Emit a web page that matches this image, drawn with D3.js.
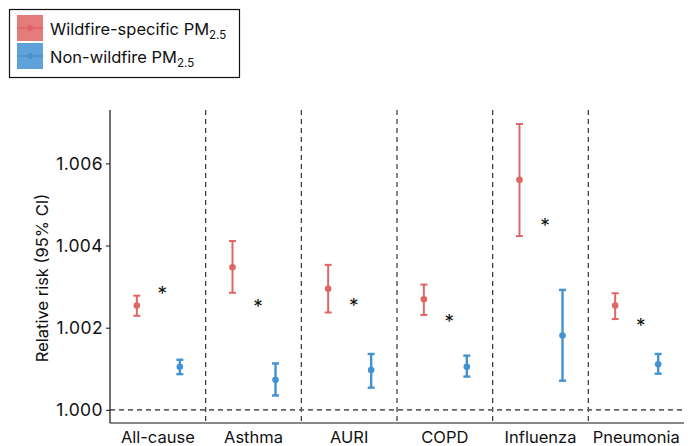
<!DOCTYPE html>
<html><head><meta charset="utf-8">
<script src="https://cdn.jsdelivr.net/npm/d3@7"></script>
<style>body{margin:0;background:#fff;} text{font-family:Inter,"Noto Sans",sans-serif;}</style>
</head><body>
<svg id="c" width="688" height="446"></svg>
<script>
const categories = ["All-cause","Asthma","AURI","COPD","Influenza","Pneumonia"];
const wildEst = [1.00254,1.00347,1.00295,1.00269,1.00560,1.00254];
const wildLo  = [1.00229,1.00285,1.00237,1.00231,1.00423,1.00221];
const wildHi  = [1.00278,1.00411,1.00353,1.00305,1.00696,1.00284];
const nonEst  = [1.00105,1.00073,1.00097,1.00105,1.00181,1.00111];
const nonLo   = [1.00087,1.00035,1.00054,1.00081,1.00071,1.00088];
const nonHi   = [1.00122,1.00113,1.00136,1.00132,1.00292,1.00136];
const starY   = [1.00292,1.00260,1.00262,1.00223,1.00457,1.00215];
const yTicks  = [1.000,1.002,1.004,1.006];
const seriesNames = ["Wildfire-specific PM","Non-wildfire PM"];

const red = "#e06666", blue = "#4393d3";
const svg = d3.select("#c");
const L = 110, R = 684, T = 110, B = 423;
const x = d3.scaleBand().domain(categories).range([L, R]);
const y = d3.scaleLinear().domain([0.99968, 1.0073]).range([B, T]);

// y ticks
const yAxis = d3.axisLeft(y).tickValues(yTicks).tickFormat(d3.format(".3f")).tickSize(4).tickSizeOuter(0);
const ga = svg.append("g").attr("transform",`translate(${L},0)`).call(yAxis);
ga.select(".domain").remove();
ga.selectAll("text").attr("font-size",17.5).attr("fill","#111").attr("font-family","Inter,sans-serif").attr("letter-spacing",0.4);
ga.selectAll("line").attr("stroke","#111");

// separators
svg.selectAll(".sep").data(categories.slice(1)).enter().append("line")
  .attr("x1",d=>x(d)).attr("x2",d=>x(d)).attr("y1",T).attr("y2",B)
  .attr("stroke","#333").attr("stroke-width",1.2).attr("stroke-dasharray","5,4");
// reference line
svg.append("line").attr("x1",L).attr("x2",R).attr("y1",y(1)).attr("y2",y(1))
  .attr("stroke","#666").attr("stroke-width",1.6).attr("stroke-dasharray","5,4");

// axes lines
svg.append("line").attr("x1",L).attr("x2",L).attr("y1",T).attr("y2",B).attr("stroke","#111").attr("stroke-width",1.2);
svg.append("line").attr("x1",L).attr("x2",R).attr("y1",B).attr("y2",B).attr("stroke","#111").attr("stroke-width",1.2);

// category labels
const xAxis = d3.axisBottom(x).tickSize(0);
const gx = svg.append("g").attr("transform",`translate(0,${B})`).call(xAxis);
gx.select(".domain").remove();
gx.selectAll("text").attr("font-size",16.5).attr("fill","#111").attr("dy","1.0em").attr("font-family","Inter,sans-serif");

// y title
svg.append("text").attr("transform",`translate(48,278) rotate(-90)`).attr("text-anchor","middle")
  .attr("font-size",16.5).attr("fill","#111").text("Relative risk (95% CI)");

function drawSeries(est, lo, hi, off, col, sw) {
  const g = svg.append("g");
  categories.forEach((c,i)=>{
    const cx = x(c) + x.bandwidth()/2 + off;
    g.append("line").attr("x1",cx).attr("x2",cx).attr("y1",y(lo[i])).attr("y2",y(hi[i])).attr("stroke",col).attr("stroke-width",sw);
    [lo[i],hi[i]].forEach(v=>g.append("line").attr("x1",cx-3.5).attr("x2",cx+3.5).attr("y1",y(v)).attr("y2",y(v)).attr("stroke",col).attr("stroke-width",sw));
    g.append("circle").attr("cx",cx).attr("cy",y(est[i])).attr("r",3.3).attr("fill",col);
  });
}
drawSeries(wildEst, wildLo, wildHi, -21, red, 2);
drawSeries(nonEst, nonLo, nonHi, 22, blue, 2.4);

// asterisks
svg.selectAll(".star").data(categories).enter().append("text")
  .attr("x",d=>x(d)+x.bandwidth()/2+4.5).attr("y",(d,i)=>y(starY[i])+10)
  .attr("text-anchor","middle").attr("font-size",19).attr("fill","#111").text("*");

// legend
const lg = svg.append("g");
lg.append("rect").attr("x",9.5).attr("y",9.5).attr("width",230).attr("height",68).attr("fill","#fff").attr("stroke","#111").attr("stroke-width",1.2);
const keyCols = [["#e57b7b","#e06262"],["#5fa2d9","#4a90cf"]];
seriesNames.forEach((n,i)=>{
  const ky = 15 + i*28;
  lg.append("rect").attr("x",17).attr("y",ky).attr("width",26).attr("height",26).attr("fill",keyCols[i][0]);
  lg.append("line").attr("x1",17).attr("x2",43).attr("y1",ky+13).attr("y2",ky+13).attr("stroke",keyCols[i][1]).attr("stroke-width",1.5);
  lg.append("circle").attr("cx",30).attr("cy",ky+13).attr("r",3).attr("fill",keyCols[i][1]);
  const t = lg.append("text").attr("x",50).attr("y",ky+20).attr("font-size",16.5).attr("fill","#111");
  t.append("tspan").text(n);
  t.append("tspan").attr("font-size",11.5).attr("dy",4).text("2.5");
});
</script>
</body></html>
